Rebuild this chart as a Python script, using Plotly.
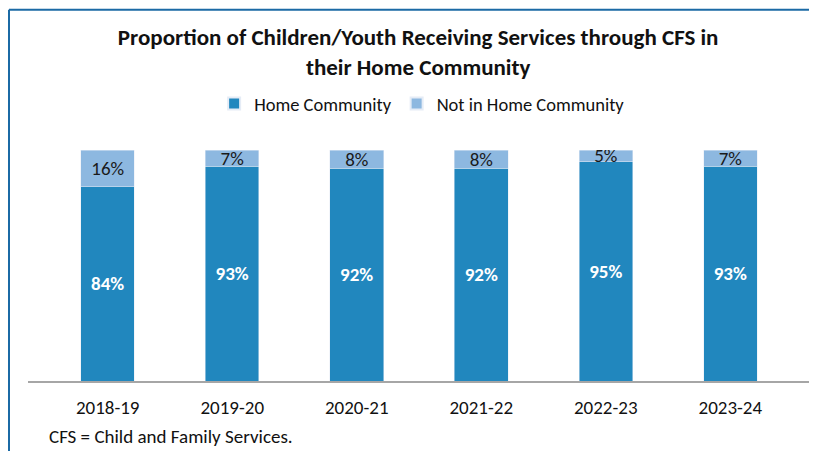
import plotly.graph_objects as go

years = ["2018-19", "2019-20", "2020-21", "2021-22", "2022-23", "2023-24"]
home = [84, 93, 92, 92, 95, 93]
not_home = [16, 7, 8, 8, 5, 7]

dark = "#2187BE"
light = "#8DB8E0"
font = "Carlito, Lato, sans-serif"

fig = go.Figure()
fig.add_trace(go.Bar(x=years, y=home, name="Home Community", marker_color=dark,
                     text=[f"{v}%" for v in home], textposition="inside",
                     insidetextanchor="middle",
                     textfont=dict(color="white", size=19, family=font, weight="bold")))
fig.add_trace(go.Bar(x=years, y=not_home, name="Not in Home Community", marker_color=light,
                     text=[f"{v}%" for v in not_home], textposition="inside",
                     insidetextanchor="middle", constraintext="none",
                     textfont=dict(color="#1a1a1a", size=19, family=font)))

# the page puts the figure 8px in from the top-left corner
fig.update_layout(
    barmode="stack", bargap=0.57,
    width=809, height=443,
    margin=dict(l=20, r=7, t=142, b=70),
    paper_bgcolor="white", plot_bgcolor="white",
    font=dict(family=font, color="#222222", size=18),
    title=dict(text="<b>Proportion of Children/Youth Receiving Services through CFS in<br>their Home Community</b>",
               x=0.507, xanchor="center", y=0.917, yanchor="top",
               font=dict(size=23, color="#111111", family=font)),
    legend=dict(orientation="h", x=0.504, xanchor="center", y=1.199, yanchor="middle",
                font=dict(size=18.5, family=font, color="#111111"), traceorder="normal",
                itemwidth=30, itemsizing="constant"),
    uniformtext=dict(minsize=10, mode="show"),
)
fig.update_xaxes(range=[-0.64, 5.64], showline=True, linecolor="#a6a6a6", linewidth=1.5,
                 ticks="", tickfont=dict(size=19, color="#111111"), ticklabelstandoff=8)
fig.update_yaxes(range=[0, 100], visible=False)

# footnote
fig.add_annotation(text="CFS = Child and Family Services.", xref="paper", yref="paper",
                   x=0.024, y=-0.242, xanchor="left", yanchor="middle", showarrow=False,
                   font=dict(size=19, color="#111111", family=font))

# blue border of the framed box
fig.add_shape(type="line", xref="paper", yref="paper", x0=-0.0243, x1=1.02, y0=1.607, y1=1.607,
              line=dict(color="#1b6aa5", width=2))
fig.add_shape(type="line", xref="paper", yref="paper", x0=-0.0243, x1=-0.0243, y0=-0.4, y1=1.607,
              line=dict(color="#1b6aa5", width=2))

fig.write_html("out.html")
